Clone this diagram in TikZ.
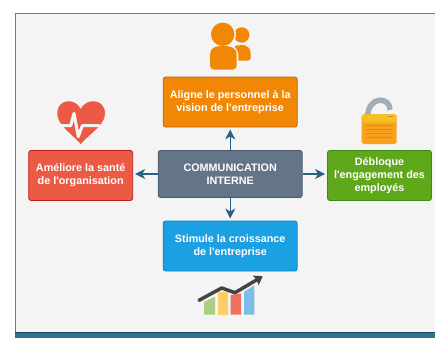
\documentclass[tikz,border=0pt]{standalone}
\usepackage{fontspec}
\newfontfamily\cardfont{Liberation Sans}
\usetikzlibrary{arrows.meta}
\definecolor{framefill}{HTML}{F4F4F4}
\definecolor{framegray}{HTML}{7A7A7A}
\definecolor{barcolor}{HTML}{2F7390}
\definecolor{arrowcolor}{HTML}{2A5F86}
\definecolor{orangefill}{HTML}{F28705}
\definecolor{orangeline}{HTML}{B8690F}
\definecolor{redfill}{HTML}{EB5A45}
\definecolor{redline}{HTML}{B81F1F}
\definecolor{slatefill}{HTML}{647589}
\definecolor{slateline}{HTML}{48586B}
\definecolor{greenfill}{HTML}{5FA81C}
\definecolor{greenline}{HTML}{3F8A12}
\definecolor{bluefill}{HTML}{1BA0E2}
\definecolor{blueline}{HTML}{1580C0}
\definecolor{lockbody}{HTML}{F7A11E}
\definecolor{lockband}{HTML}{F5C022}
\definecolor{lockstripe}{HTML}{E8861A}
\definecolor{shacklecolor}{HTML}{A3ADB5}
\definecolor{chartgreen}{HTML}{A8D080}
\definecolor{chartyellow}{HTML}{FFCC66}
\definecolor{chartred}{HTML}{F07060}
\definecolor{chartblue}{HTML}{7DBBE8}
\definecolor{chartline}{HTML}{444444}
\tikzset{
  card/.style={rounded corners=2.5pt,line width=0.9pt,text=white,align=center,
    font=\cardfont\bfseries\fontsize{10.8}{12.8}\selectfont,inner sep=0pt},
  link/.style={draw=arrowcolor,line width=1.3pt,-{Stealth[length=10pt,width=10pt,inset=3pt]},shorten >=2pt}
}
\begin{document}
\begin{tikzpicture}[x=1pt,y=-1pt]
  \useasboundingbox (0,0) rectangle (435,338);
  \fill [framefill] (15,13.5) rectangle (435,332);
  \draw [framegray,line width=1pt] (435,13.5) -- (15,13.5) -- (15,332);
  \fill [barcolor] (14.5,332) rectangle (435,338);
  \draw [barcolor!60!black,line width=0.6pt] (14.5,332) -- (435,332);
  % boxes
  \node [card,draw=orangeline,fill=orangefill,minimum width=134pt,minimum height=50pt] (align) at (230.2,102) {Aligne le personnel à la\\vision de l'entreprise};
  \node [card,draw=redline,fill=redfill,minimum width=104pt,minimum height=50pt] (health) at (80.7,175.5) {Améliore la santé\\de l'organisation};
  \node [card,draw=slateline,fill=slatefill,minimum width=144pt,minimum height=47pt] (comm) at (230.2,174) {COMMUNICATION\\INTERNE};
  \node [card,draw=greenline,fill=greenfill,minimum width=104pt,minimum height=50pt] (unlock) at (379.5,175.5) {Débloque\\l'engagement des\\employés};
  \node [card,draw=blueline,fill=bluefill,minimum width=134pt,minimum height=50pt] (growth) at (230.2,246) {Stimule la croissance\\de l'entreprise};
  \draw [link] (comm) -- (align);
  \draw [link] (comm.west) -- (health.east |- comm.west);
  \draw [link] (comm.east) -- (unlock.west |- comm.east);
  \draw [link] (comm) -- (growth);
  % people
  \fill [orangefill] (241.7,35) circle (7.7);
  \fill [orangefill,rounded corners=3pt] (234,45.5) -- (246,45) -- (250.7,50) -- (250.7,60.7) -- (234,60.7) -- cycle;
  \fill [framefill] (222.7,34.3) circle (13.3);
  \fill [framefill,rounded corners=5pt] (208.5,70.5) -- (208.5,50) -- (215,44.5) -- (231,44.5) -- (238.3,50) -- (238.3,70.5) -- cycle;
  \fill [orangefill] (222.7,34.3) circle (11.7);
  \fill [orangefill,rounded corners=4pt] (210,69.5) -- (210,50) -- (216,46) -- (230,46) -- (236.7,50) -- (236.7,69.5) -- cycle;
  % heart
  \fill [redfill] (80.7,144) .. controls (71,133) and (57.3,125) .. (57.3,113.5) .. controls (57.3,98) and (76,98) .. (80.7,109) .. controls (85.4,98) and (105,98) .. (105,113.5) .. controls (105,125) and (90.5,133) .. (80.7,144) -- cycle;
  \draw [framefill,line width=3pt,line cap=round,line join=round] (60,125.7) -- (70.7,125.7) -- (74,113.3) -- (78.3,136.7) -- (82.3,125.7) -- (99.3,125.7);
  % lock
  \draw [line width=5.5pt,draw=shacklecolor] (367.7,116.7) .. controls (367.7,96) and (390,96) .. (390,110);
  \fill [lockbody,rounded corners=2.5pt] (361.7,114.3) rectangle (396.7,144);
  \fill [lockband,rounded corners=2.5pt] (361.7,114.3) rectangle (396.7,122.6);
  \foreach \ypos in {124.7,128.7,132.7,136.7}
    \fill [lockstripe] (365.7,\ypos) rectangle (392.7,\ypos+1.5);
  \fill [lockstripe] (387.5,115.8) rectangle (393,117.3);
  % chart
  \fill [chartgreen] (204,302) -- (215,296.5) -- (215,314.7) -- (204,314.7) -- cycle;
  \fill [chartyellow] (217.7,291.5) -- (228.3,291.5) -- (228.3,314.7) -- (217.7,314.7) -- cycle;
  \fill [chartred] (230.7,295) -- (241,293.5) -- (241,314.7) -- (230.7,314.7) -- cycle;
  \fill [chartblue] (244,292) -- (254.3,285.3) -- (254.3,314.7) -- (244,314.7) -- cycle;
  \draw [line width=3.5pt,chartline,line cap=round,line join=round,-{Stealth[length=8pt,width=11pt,inset=1pt]}] (199,300.3) -- (221.7,288) -- (235,292.7) -- (262.7,276.3);
\end{tikzpicture}
\end{document}
